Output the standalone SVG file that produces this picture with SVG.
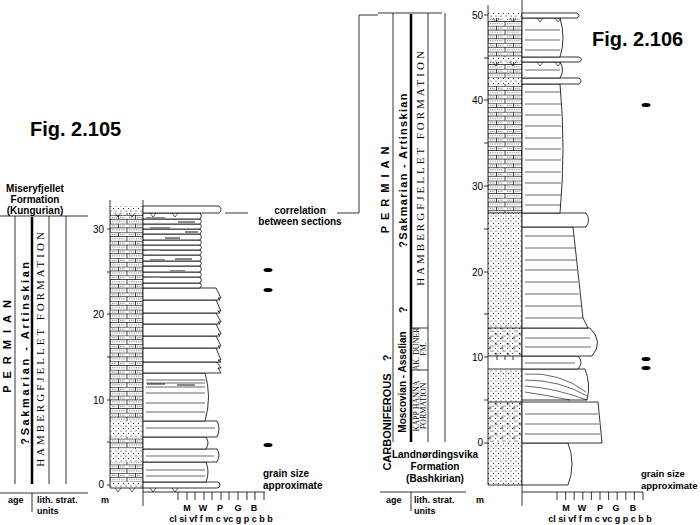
<svg xmlns="http://www.w3.org/2000/svg" width="700" height="525" viewBox="0 0 700 525">
<defs>
<pattern id="sand" width="5" height="5" patternUnits="userSpaceOnUse"><rect width="5" height="5" fill="#fff"/><circle cx="1" cy="1" r="0.55" fill="#000"/><circle cx="3.5" cy="3.5" r="0.55" fill="#000"/></pattern>
<pattern id="brick" x="110" y="0" width="17" height="8.6" patternUnits="userSpaceOnUse"><rect width="17" height="8.6" fill="#fff"/><path d="M0 0.3H17M0 4.3H17M8.5 0.3V4.3M0 4.3V8.6M17 4.3V8.6" stroke="#000" stroke-width="0.7" fill="none"/><path d="M2 2.3H7M10 2.3H15M2 6.5H15" stroke="#000" stroke-width="0.6" stroke-dasharray="0.8 1" fill="none"/></pattern>
<pattern id="brick2" x="488" y="0" width="17" height="8.6" patternUnits="userSpaceOnUse"><rect width="17" height="8.6" fill="#fff"/><path d="M0 0.3H17M0 4.3H17M8.5 0.3V4.3M0 4.3V8.6M17 4.3V8.6" stroke="#000" stroke-width="0.7" fill="none"/><path d="M2 2.3H7M10 2.3H15M2 6.5H15" stroke="#000" stroke-width="0.6" stroke-dasharray="0.8 1" fill="none"/></pattern>
<pattern id="pebble" width="12" height="10" patternUnits="userSpaceOnUse"><rect width="12" height="10" fill="url(#sand)"/><circle cx="4" cy="4" r="1" fill="none" stroke="#000" stroke-width="0.5"/><circle cx="10" cy="8" r="1" fill="none" stroke="#000" stroke-width="0.5"/></pattern>
</defs>
<style>
text{font-family:"Liberation Sans",Arial,sans-serif;fill:#000}
.b{font-weight:bold}
.m{font-weight:bold}
.s{font-family:"Liberation Serif","Times New Roman",serif}
.ln{stroke:#000;stroke-width:0.8;fill:none}
.th{stroke:#000;stroke-width:2.5;fill:none}
.bed{stroke:#000;stroke-width:0.8;fill:#fff}
.lam{stroke:#000;stroke-width:0.6;fill:none}
.gl{stroke:#888;stroke-width:2}
</style>

<g id="title105"><text x="30" y="136" class="b" font-size="20">Fig. 2.105</text></g>
<g id="title106"><text x="592" y="46" class="b" font-size="20">Fig. 2.106</text></g>

<g id="left-strat">
<text x="35" y="192" class="b" font-size="10" text-anchor="middle">Miseryfjellet</text>
<text x="35" y="203" class="b" font-size="10" text-anchor="middle">Formation</text>
<text x="35" y="214" class="b" font-size="10" text-anchor="middle">(Kungurian)</text>
<path class="ln" d="M0 216H88M15 216V484M49 216V484M66 216V484"/>
<path class="th" d="M32 217V484"/>
<text transform="translate(11,343) rotate(-90)" class="b" font-size="11" letter-spacing="7" text-anchor="middle">PERMIAN</text>
<text transform="translate(29,352) rotate(-90)" class="b" font-size="11" letter-spacing="2.6" text-anchor="middle">?Sakmarian - Artinskian</text>
<text transform="translate(44,348) rotate(-90)" class="s" font-size="11" letter-spacing="3" text-anchor="middle">HAMBERGFJELLET FORMATION</text>
<path class="ln" d="M0 493H88M32 493V512"/>
<text x="8" y="503" font-size="9" class="b">age</text>
<text x="37" y="503" font-size="9" class="m">lith. strat.</text>
<text x="37" y="514" font-size="9" class="m">units</text>
<text x="101" y="503" font-size="9" class="b">m</text>
</g>

<g id="left-log">
<rect x="110" y="206" width="33" height="7" fill="url(#sand)"/>
<rect x="110" y="213" width="33" height="208" fill="url(#brick)"/>
<rect x="110" y="421" width="33" height="16" fill="url(#sand)"/>
<rect x="110" y="437" width="33" height="12" fill="url(#brick)"/>
<rect x="110" y="449" width="33" height="13" fill="url(#sand)"/>
<rect x="110" y="462" width="33" height="20" fill="url(#brick)"/>
<rect x="110" y="482" width="33" height="6" fill="url(#sand)"/>
<path class="ln" d="M110 200V488H143M143 200V506M107 485H110M107 442H110M107 400H110M107 357H110M107 314H110M107 272H110M107 229H110"/>
<text x="104" y="488" font-size="10" text-anchor="end">0</text>
<text x="104" y="404" font-size="10" text-anchor="end">10</text>
<text x="104" y="318" font-size="10" text-anchor="end">20</text>
<text x="104" y="233" font-size="10" text-anchor="end">30</text>
<path class="bed" d="M143 482H217Q220 482 220 485Q220 488 217 488H143Z"/>
<path class="bed" d="M143 462H206Q210 472 206 482H143Z"/>
<path class="bed" d="M143 449H217Q221 455 217 462H143Z"/>
<path class="bed" d="M143 437H206Q210 443 206 449H143Z"/>
<path class="bed" d="M143 421H217Q221 429 217 437H143Z"/>
<path class="bed" d="M143 373H205Q212 397 205 421H143Z"/>
<path class="bed" d="M143 362H217L221 368H218L221 373H143Z"/>
<path class="bed" d="M143 348H216L221 360H218L221 362H143Z"/>
<path class="bed" d="M143 336H216L221 346H218L220 348H143Z"/>
<path class="bed" d="M143 324H216L221 334H218L220 336H143Z"/>
<path class="bed" d="M143 313H216L221 322H218L220 324H143Z"/>
<path class="bed" d="M143 300H216L221 311H218L220 313H143Z"/>
<path class="bed" d="M143 288H216L221 298H218L220 300H143Z"/>
<g class="bed">
<path d="M143 283H200Q203 285.5 200 288H143Z"/><path d="M143 277H200Q203 280 200 283H143Z"/>
<path d="M143 272H200Q203 274.5 200 277H143Z"/><path d="M143 266H200Q203 269 200 272H143Z"/>
<path d="M143 261H200Q203 263.5 200 266H143Z"/><path d="M143 255H200Q203 258 200 261H143Z"/>
<path d="M143 250H200Q203 252.5 200 255H143Z"/><path d="M143 245H200Q203 247.5 200 250H143Z"/>
<path d="M143 240H200Q203 242.5 200 245H143Z"/><path d="M143 234H200Q203 237 200 240H143Z"/>
<path d="M143 229H200Q203 231.5 200 234H143Z"/><path d="M143 224H200Q203 226.5 200 229H143Z"/>
<path d="M143 219H200Q203 221.5 200 224H143Z"/><path d="M143 213H200Q203 216 200 219H143Z"/>
</g>
<path class="bed" d="M143 206H219Q223 209.5 219 213H143Z"/>
<path class="gl" d="M146 277H160M170 271H185M150 260H165M175 259H192M147 250H160M165 238H180M150 228H170M178 222H195M146 218H165M185 232H198M147 384H165M177 385H195"/>
<path class="lam" d="M146 380H205M146 383H205M146 387H205M146 393H205M146 403H205M146 412H205M146 428H215M146 456H214M146 470H205M146 476H205"/>
<path class="lam" d="M150 213L153 217L156 213M172 213L175 217L178 213M150 488L153 492L156 488M172 488L175 492L178 488M115 488L118 492L121 488M129 488L132 492L135 488M115 213L118 217L121 213M129 213L132 217L135 213"/>
</g>

<g id="left-axis">
<path class="ln" d="M143 492H265M178 492V500M187 492V500M195 492V500M204 492V500M212 492V500M221 492V500M229 492V500M238 492V500M247 492V500M255 492V500M264 492V500"/>
<text x="187" y="511" font-size="9" class="m" text-anchor="middle">M</text>
<text x="203" y="511" font-size="9" class="m" text-anchor="middle">W</text>
<text x="220" y="511" font-size="9" class="m" text-anchor="middle">P</text>
<text x="238" y="511" font-size="9" class="m" text-anchor="middle">G</text>
<text x="254" y="511" font-size="9" class="m" text-anchor="middle">B</text>
<text x="221" y="522" font-size="9" class="m" text-anchor="middle">cl si vf f m c vc g p c b b</text>
<text x="263" y="477" font-size="10" class="m">grain size</text>
<text x="263" y="489" font-size="10" class="m">approximate</text>
<ellipse cx="268" cy="270" rx="4.5" ry="2" fill="#000"/>
<ellipse cx="268" cy="290" rx="4.5" ry="2" fill="#000"/>
<ellipse cx="268" cy="445" rx="4.5" ry="2" fill="#000"/>
</g>

<g id="connectors">
<path class="ln" d="M225 213H248M337 213H359V15H378M378 13H442"/>
<text x="300" y="214" font-size="10" class="m" text-anchor="middle">correlation</text>
<text x="300" y="225" font-size="10" class="m" text-anchor="middle">between sections</text>
</g>

<g id="right-strat">
<path class="ln" d="M393 13V442M428 13V442M445 13V442M411 328H428M411 370H428"/>
<path class="th" d="M411 14V442"/>
<text transform="translate(389,187) rotate(-90)" class="b" font-size="11" letter-spacing="6" text-anchor="middle">PERMIAN</text>
<text transform="translate(407,170) rotate(-90)" class="b" font-size="11" letter-spacing="1.3" text-anchor="middle">?Sakmarian - Artinskian</text>
<text transform="translate(424,167) rotate(-90)" class="s" font-size="11" letter-spacing="3" text-anchor="middle">HAMBERGFJELLET FORMATION</text>
<text transform="translate(407,310) rotate(-90)" class="b" font-size="11" text-anchor="middle">?</text>
<text transform="translate(391,422) rotate(-90)" class="b" font-size="11" text-anchor="middle">CARBONIFEROUS</text>
<text transform="translate(391,358) rotate(-90)" class="b" font-size="11" text-anchor="middle">?</text>
<text transform="translate(406,382) rotate(-90)" class="b" font-size="10" text-anchor="middle">Moscovian - Asselian</text>
<text transform="translate(419,406) rotate(-90)" class="s" font-size="8" text-anchor="middle">KAPP HANNA</text>
<text transform="translate(426,406) rotate(-90)" class="s" font-size="8" text-anchor="middle">FORMATION</text>
<text transform="translate(419,349) rotate(-90)" class="s" font-size="8" text-anchor="middle">AK. DUNER</text>
<text transform="translate(426,349) rotate(-90)" class="s" font-size="8" text-anchor="middle">FM.</text>
<text x="435" y="458" class="b" font-size="10" text-anchor="middle">Landnørdingsvika</text>
<text x="435" y="470" class="b" font-size="10" text-anchor="middle">Formation</text>
<text x="435" y="482" class="b" font-size="10" text-anchor="middle">(Bashkirian)</text>
<path class="ln" d="M380 492H466M411 492V511"/>
<text x="386" y="503" font-size="9" class="b">age</text>
<text x="414" y="503" font-size="9" class="m">lith. strat.</text>
<text x="414" y="514" font-size="9" class="m">units</text>
<text x="476" y="503" font-size="9" class="b">m</text>
</g>

<g id="right-log">
<rect x="488" y="13" width="34" height="5" fill="url(#sand)"/>
<rect x="488" y="18" width="34" height="39" fill="url(#brick2)"/>
<rect x="488" y="57" width="34" height="5" fill="url(#sand)"/>
<rect x="488" y="62" width="34" height="16" fill="url(#brick2)"/>
<rect x="488" y="78" width="34" height="6" fill="url(#sand)"/>
<rect x="488" y="84" width="34" height="129" fill="url(#brick2)"/>
<rect x="488" y="213" width="34" height="115" fill="url(#sand)"/>
<rect x="488" y="328" width="34" height="28" fill="url(#pebble)"/>
<rect x="488" y="356" width="34" height="13" fill="#fff"/>
<rect x="488" y="369" width="34" height="33" fill="url(#sand)"/>
<rect x="488" y="402" width="34" height="41" fill="url(#pebble)"/>
<rect x="488" y="443" width="34" height="42" fill="url(#sand)"/>
<path class="ln" d="M488 5V485H522M522 0V506M484 443H488M484 400H488M484 357H488M484 314H488M484 272H488M484 229H488M484 186H488M484 143H488M484 100H488M484 58H488M484 15H488M488 213H522M488 328H522M488 356H522M488 369H522M488 402H522M497 360V356M505 360V356M513 360V356"/>
<text x="483" y="446" font-size="10" text-anchor="end">0</text>
<text x="483" y="361" font-size="10" text-anchor="end">10</text>
<text x="483" y="276" font-size="10" text-anchor="end">20</text>
<text x="483" y="190" font-size="10" text-anchor="end">30</text>
<text x="483" y="104" font-size="10" text-anchor="end">40</text>
<text x="483" y="19" font-size="10" text-anchor="end">50</text>
<path class="bed" d="M522 443H568Q576 464 568 485H522Z"/>
<path class="bed" d="M522 402H598L602 443H522Z"/>
<path class="bed" d="M522 369H585Q591 384 587 400H522Z"/>
<path class="bed" d="M522 356H578Q584 362 578 369H522Z"/>
<path class="bed" d="M522 328H590Q604 342 592 356H522Z"/>
<path class="bed" d="M522 227H573L583 318Q586 324 588 328H522Z"/>
<path class="bed" d="M522 213H586Q591 220 586 227H522Z"/>
<path class="bed" d="M522 84H560Q566 148 560 213H522Z"/>
<path class="bed" d="M522 78H579Q583 81 579 84H522Z"/>
<path class="bed" d="M522 62H560Q565 70 560 78H522Z"/>
<path class="bed" d="M522 57H579Q584 59.5 579 62H522Z"/>
<path class="bed" d="M522 18H560Q566 38 560 57H522Z"/>
<path class="bed" d="M522 13H577Q581 15.5 577 18H522Z"/>
<path class="lam" d="M525 30H560M525 40H560M525 50H560M525 70H560M525 92H561M525 104H561M525 115H561M525 126H561M525 138H561M525 149H561M525 160H561M525 172H561M525 183H561M525 195H561M525 205H561M525 236H574M525 248H575M525 260H576M525 270H577M525 282H578M525 294H579M525 306H581M525 318H583M525 338H590M525 347H591M525 363H575M525 414H598M525 424H599M525 434H600"/>
<path class="lam" d="M525 374Q560 372 586 392M525 380Q560 380 587 396M525 386Q555 388 587 400M525 392Q545 395 570 400"/>
<path class="lam" d="M537 18L540 22L543 18M555 18L558 22L561 18M537 62L540 66L543 62M555 62L558 66L561 62M493 18L496 22L499 18M510 18L513 22L516 18M493 62L496 66L499 62M510 62L513 66L516 62"/>
</g>

<g id="right-axis">
<path class="ln" d="M522 492H643M557 492V500M565.6 492V500M574.2 492V500M582.8 492V500M591.4 492V500M600 492V500M608.6 492V500M617.2 492V500M625.8 492V500M634.4 492V500M643 492V500"/>
<text x="566" y="511" font-size="9" class="m" text-anchor="middle">M</text>
<text x="582" y="511" font-size="9" class="m" text-anchor="middle">W</text>
<text x="600" y="511" font-size="9" class="m" text-anchor="middle">P</text>
<text x="616" y="511" font-size="9" class="m" text-anchor="middle">G</text>
<text x="633" y="511" font-size="9" class="m" text-anchor="middle">B</text>
<text x="600" y="522" font-size="9" class="m" text-anchor="middle">cl si vf f m c vc g p c b b</text>
<text x="641" y="477" font-size="9.5" class="m">grain size</text>
<text x="641" y="489" font-size="9.5" class="m">approximate</text>
<ellipse cx="646" cy="105" rx="4.5" ry="2" fill="#000"/>
<ellipse cx="646" cy="359" rx="4.5" ry="2" fill="#000"/>
<ellipse cx="646" cy="368" rx="4.5" ry="2" fill="#000"/>
</g>
</svg>
